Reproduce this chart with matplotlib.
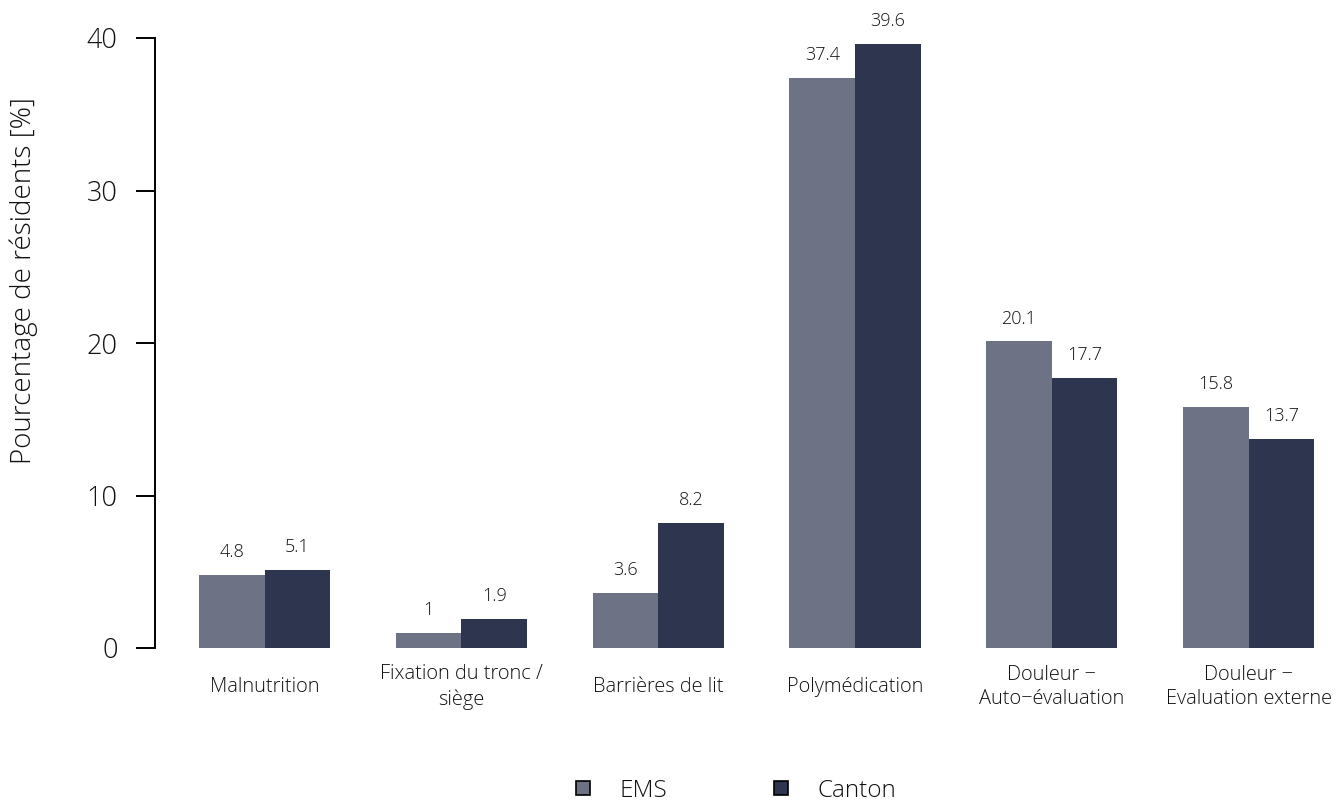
import numpy as np
import matplotlib.pyplot as plt
from matplotlib.lines import Line2D

plt.rcParams['font.family'] = ['Open Sans', 'DejaVu Sans']
plt.rcParams['font.weight'] = 'light'
plt.rcParams['text.color'] = '#111111'
plt.rcParams['ytick.labelcolor'] = '#111111'
plt.rcParams['xtick.labelcolor'] = '#111111'

categories = ['Malnutrition', 'Fixation du tronc /\nsiège', 'Barrières de lit',
              'Polymédication', 'Douleur \u2212\nAuto\u2212évaluation',
              'Douleur \u2212\nEvaluation externe']
ems = [4.8, 1.0, 3.6, 37.4, 20.1, 15.8]
canton = [5.1, 1.9, 8.2, 39.6, 17.7, 13.7]
series_names = ['EMS', 'Canton']
colors = ['#6d7285', '#2d364e']
yticks = [0, 10, 20, 30, 40]

W, H = 1336, 806
fig = plt.figure(figsize=(W / 100, H / 100), dpi=100)
# axes in pixel terms: y=0 at 648px, y=40 at 38px, spine at x=155px
ax = fig.add_axes([155 / W, (H - 648) / H, 1 - 155 / W, (648 - 38) / H])

# bar width = 1, groups every 3 units (R barplot, space = c(0, 1))
starts = 1 + 3 * np.arange(len(categories))
ax.bar(starts, ems, width=1, align='edge', color=colors[0], linewidth=0)
ax.bar(starts + 1, canton, width=1, align='edge', color=colors[1], linewidth=0)

for xs, vals in [(starts + 0.5, ems), (starts + 1.5, canton)]:
    for x, v in zip(xs, vals):
        lab = '%g' % v
        ax.annotate(lab, (x, v), xytext=(0, 16.5), textcoords='offset points',
                    ha='center', va='center', fontsize=13)

x0 = 1 - 44 / 65.6
ax.set_xlim(x0, x0 + (W - 155) / 65.6)
ax.set_ylim(0, 40)

ax.set_xticks(starts + 1)
ax.set_xticklabels(categories, fontsize=14.4, va='center', linespacing=1.3)
ax.tick_params(axis='x', length=0, pad=28)

ax.set_yticks(yticks)
ax.set_yticklabels([str(t) for t in yticks], fontsize=19.5)
ax.tick_params(axis='y', length=14, width=1.4, pad=13)

for s in ['top', 'right', 'bottom']:
    ax.spines[s].set_visible(False)
ax.spines['left'].set_bounds(0, 40)
ax.spines['left'].set_linewidth(1.4)

fig.text(24 / W, 1 - 281 / H, 'Pourcentage de résidents [%]', rotation=90,
         ha='center', va='center', fontsize=20)

handles = [Line2D([], [], marker='s', linestyle='none', markersize=10.5,
                  markerfacecolor=c, markeredgecolor='black', markeredgewidth=1.2)
           for c in colors]
fig.legend(handles, series_names, loc='center', bbox_to_anchor=(735 / W, 1 - 791 / H),
           ncol=2, frameon=False, fontsize=17.5, handlelength=0.8,
           handletextpad=1.1, columnspacing=4.3)

fig.savefig('out.png', dpi=100)
